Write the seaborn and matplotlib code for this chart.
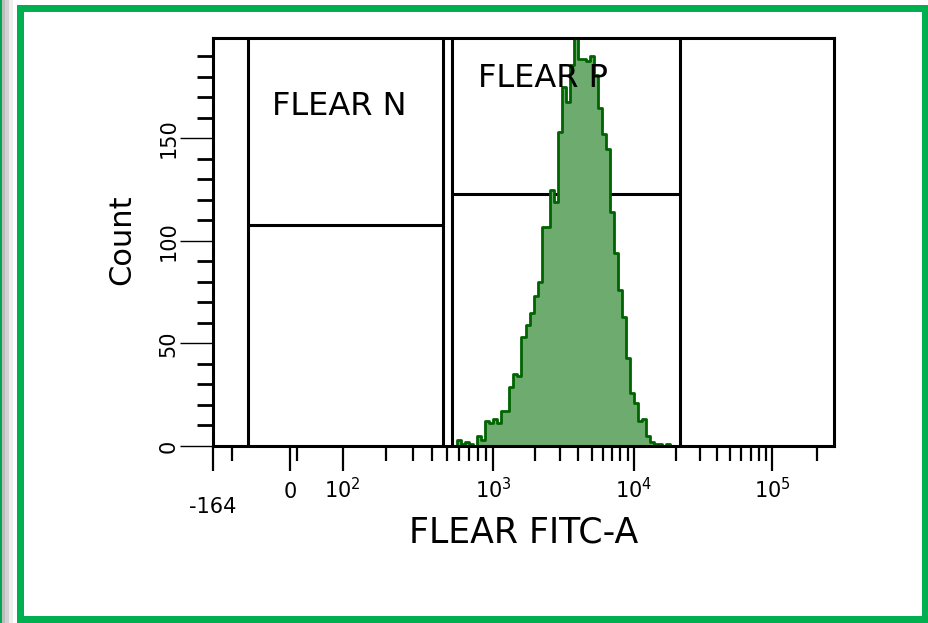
import numpy as np
import matplotlib
matplotlib.use("Agg")
import matplotlib.pyplot as plt
import seaborn as sns
from matplotlib.patches import Rectangle
from matplotlib.scale import FuncScale

sns.set_theme(style="ticks")
plt.rcParams["font.family"] = ["DejaVu Sans"]
plt.rcParams["mathtext.default"] = "regular"

# ---------------------------------------------------------------
# Data (FLEAR FITC-A, biex display)
# ---------------------------------------------------------------
# display scale anchors: value -> fraction of axis width
scale_values = [-164, 0, 100, 1000, 10000, 100000, 262143]
scale_fracs = [0.0, 0.124, 0.209, 0.451, 0.678, 0.900, 1.0]

x_major_ticks = [-164, 0, 100, 1000, 10000, 100000]
x_major_labels = ["", "0", "$10^2$", "$10^3$", "$10^4$", "$10^5$"]
x_minor_ticks = [-100, 10,
                 200, 300, 400, 500, 600, 700, 800, 900,
                 2000, 3000, 4000, 5000, 6000, 7000, 8000, 9000,
                 20000, 30000, 40000, 50000, 60000, 70000, 80000, 90000,
                 200000]
y_major_ticks = [0, 50, 100, 150]
y_minor_ticks = [10, 20, 30, 40, 60, 70, 80, 90, 110, 120, 130, 140,
                 160, 170, 180, 190]

# histogram: 155 display bins over the full axis, counts start at bin 61
n_bins = 155
first_bin = 61
fitc_counts = [3, 1, 2, 1, 0, 5, 3, 12, 11, 13,
               11, 17, 17, 29, 35, 34, 53, 59, 65, 73,
               80, 107, 107, 125, 119, 153, 175, 168, 186, 199,
               189, 189, 188, 190, 181, 165, 152, 145, 114, 94,
               76, 63, 43, 26, 21, 12, 13, 5, 2, 1,
               1, 0, 1]

# gates
gate_names = ["FLEAR N", "FLEAR P"]
gate_low = [-62, 540]
gate_high = [472, 21500]
gate_level = [108, 123]

# ---------------------------------------------------------------
# Biexponential-like scale (asinh, piecewise matched to the axis)
# ---------------------------------------------------------------
U_ANCH = np.arcsinh(np.array(scale_values, float) / 50.0)
P_ANCH = np.array(scale_fracs, float)


def _interp_ext(v, xp, fp):
    v = np.asarray(v, float)
    out = np.interp(v, xp, fp)
    lo_slope = (fp[1] - fp[0]) / (xp[1] - xp[0])
    hi_slope = (fp[-1] - fp[-2]) / (xp[-1] - xp[-2])
    out = np.where(v < xp[0], fp[0] + (v - xp[0]) * lo_slope, out)
    out = np.where(v > xp[-1], fp[-1] + (v - xp[-1]) * hi_slope, out)
    return out


def biex_forward(x):
    return _interp_ext(np.arcsinh(np.asarray(x, float) / 50.0), U_ANCH, P_ANCH)


def biex_inverse(p):
    return 50.0 * np.sinh(_interp_ext(p, P_ANCH, U_ANCH))


# bins are uniform in display space; seaborn bins in the scale's space
grid = np.linspace(0, 1, n_bins + 1)
bin_edges_disp = grid[first_bin:first_bin + len(fitc_counts) + 1].tolist()
bin_centers = biex_inverse((grid[:-1] + grid[1:]) / 2)[first_bin:first_bin + len(fitc_counts)]

# ---------------------------------------------------------------
# Figure
# ---------------------------------------------------------------
W, H = 929, 623
fig = plt.figure(figsize=(W / 100, H / 100), dpi=100)
fig.patch.set_facecolor("white")


def px_rect(x0, y0, x1, y1, color):
    fig.patches.append(Rectangle((x0 / W, 1 - y1 / H), (x1 - x0) / W, (y1 - y0) / H,
                                 transform=fig.transFigure, facecolor=color,
                                 edgecolor="none", zorder=0))


# window chrome: grey strip and green frame
px_rect(0, 0, 1.7, H, "#00a651")
px_rect(1.7, 0, 5, H, "#bdbdbd")
px_rect(5, 0, 9.3, H, "#d2d2d2")
px_rect(9.3, 0, 13.3, H, "#eeeeee")
green = "#00b050"
px_rect(17, 5, W, 12, green)
px_rect(17, 5, 24, H, green)
px_rect(17, 616, W, H, green)
px_rect(922, 5, W, H, green)

ax = fig.add_axes([213 / W, 1 - 446 / H, 621 / W, 408 / H])
ax.set_xscale(FuncScale(ax.xaxis, (biex_forward, biex_inverse)))
ax.set_facecolor("white")

# gate markers (below the histogram)
for name, lo, hi, lvl in zip(gate_names, gate_low, gate_high, gate_level):
    ax.vlines([lo, hi], 0, 1, transform=ax.get_xaxis_transform(),
              color="black", linewidth=2.2, zorder=1)
    ax.hlines(lvl, lo, hi, color="black", linewidth=2.2, zorder=1)

sns.histplot(x=bin_centers, weights=fitc_counts, bins=bin_edges_disp,
             element="step", fill=True, color="#006400",
             facecolor="#6dab6f", edgecolor="#006400", linewidth=2.0,
             alpha=1, ax=ax, zorder=2)

ax.set_xlim(scale_values[0], scale_values[-1])
ax.set_ylim(0, 199)

# gate labels
ax.text(0.095, 0.831, gate_names[0], transform=ax.transAxes, fontsize=23,
        ha="left", va="center", color="black", zorder=4)
ax.text(0.427, 0.900, gate_names[1], transform=ax.transAxes, fontsize=23,
        ha="left", va="center", color="black", zorder=4)

# spines
for sp in ax.spines.values():
    sp.set_color("black")
    sp.set_linewidth(2.2)
    sp.set_visible(True)

# x ticks
ax.set_xticks(x_major_ticks)
ax.set_xticklabels(x_major_labels)
ax.set_xticks(x_minor_ticks, minor=True)
ax.tick_params(axis="x", which="major", length=18, width=1.6, direction="out",
               color="black", labelsize=15, labelcolor="black", pad=19.5)
ax.tick_params(axis="x", which="minor", length=11, width=1.6, direction="out",
               color="black")
for lbl in ax.get_xticklabels():
    lbl.set_verticalalignment("baseline")
ax.text(-164, -0.164, "-164", transform=ax.get_xaxis_transform(),
        fontsize=15, ha="center", va="baseline", color="black")

# y ticks
ax.set_yticks(y_major_ticks)
ax.set_yticklabels([str(v) for v in y_major_ticks])
ax.set_yticks(y_minor_ticks, minor=True)
ax.tick_params(axis="y", which="major", length=24, width=1.0, direction="out",
               color="black", labelsize=15, labelcolor="black", labelrotation=90, pad=1)
ax.tick_params(axis="y", which="minor", length=11.5, width=2.0, direction="out",
               color="black")
for lbl in ax.get_yticklabels():
    lbl.set_verticalalignment("center")

# axis labels
ax.set_xlabel("FLEAR FITC-A", fontsize=25, color="black")
ax.xaxis.set_label_coords(0.5, -0.171)
ax.set_ylabel("Count", fontsize=22, color="black")
ax.yaxis.set_label_coords(-0.124, 0.505)

fig.savefig("out.png", dpi=100)
